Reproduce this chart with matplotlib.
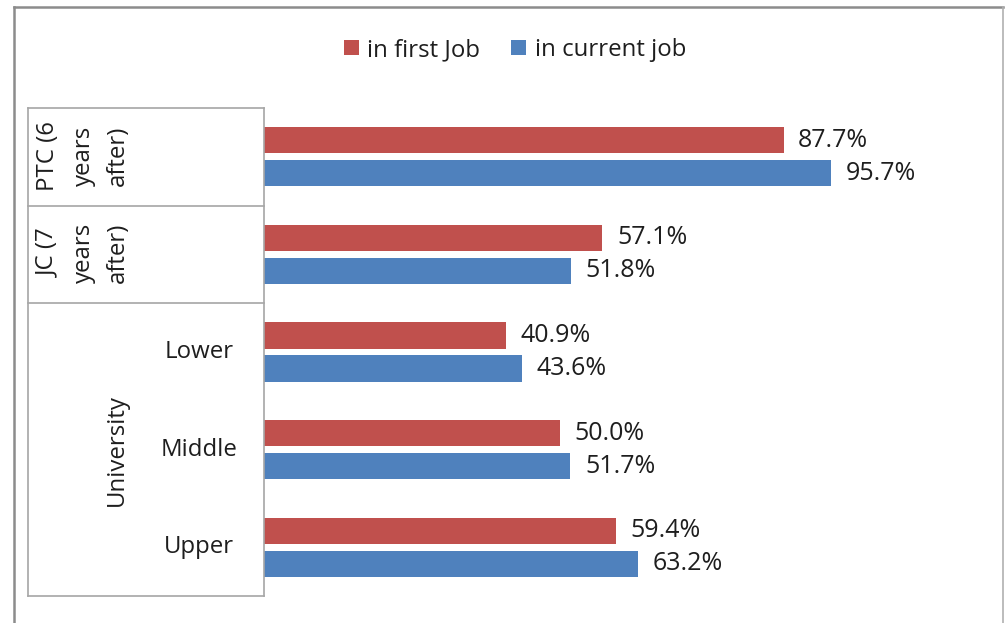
import matplotlib
matplotlib.use("Agg")
import matplotlib.pyplot as plt
from matplotlib.lines import Line2D
from matplotlib.patches import Patch
from matplotlib.transforms import blended_transform_factory

plt.rcParams['font.family'] = ['Open Sans', 'DejaVu Sans']

# Data
rows = ["PTC (6 years after)", "JC (7 years after)", "Lower", "Middle", "Upper"]
outer_labels = ["PTC (6\nyears\nafter)", "JC (7\nyears\nafter)", "University"]
inner_labels = ["Lower", "Middle", "Upper"]
series_names = ["in first Job", "in current job"]
first_job = [87.7, 57.1, 40.9, 50.0, 59.4]
current_job = [95.7, 51.8, 43.6, 51.7, 63.2]

RED = "#C0504D"
BLUE = "#4F81BD"
TXT = "#1E1E1E"
GRID = "#A6A6A6"
FS = 17.3
FSV = 18

W, H = 1005, 623
fig = plt.figure(figsize=(W / 100, H / 100), dpi=100)
fig.patch.set_facecolor("white")

ax_left, ax_right, ax_top, ax_bottom = 264, 1000, 108, 596
ax = fig.add_axes([ax_left / W, 1 - ax_bottom / H, (ax_right - ax_left) / W, (ax_bottom - ax_top) / H])

px_per_unit = (831 - 264) / 95.7
ax.set_xlim(0, (ax_right - ax_left) / px_per_unit)
ax.set_ylim(len(rows) - 0.5, -0.5)

ypos = list(range(len(rows)))
bh = 0.268
off = 0.169
ax.barh([y - off for y in ypos], first_job, height=bh, color=RED, label=series_names[0])
ax.barh([y + off for y in ypos], current_job, height=bh, color=BLUE, label=series_names[1])

for y, v in zip(ypos, first_job):
    ax.annotate(f"{v:.1f}%", (v, y - off), xytext=(10.5, 0), textcoords="offset points",
                va="center", ha="left", fontsize=FSV, color=TXT)
for y, v in zip(ypos, current_job):
    ax.annotate(f"{v:.1f}%", (v, y + off), xytext=(10.5, 0), textcoords="offset points",
                va="center", ha="left", fontsize=FSV, color=TXT)

for s in ["top", "right", "bottom"]:
    ax.spines[s].set_visible(False)
ax.spines["left"].set_color(GRID)
ax.spines["left"].set_linewidth(1.2)
ax.set_xticks([])
ax.set_yticks([])

# Category box
tr = blended_transform_factory(fig.transFigure, ax.transData)
x0 = 28 / W
x1 = 264 / W
for yb in [-0.5, 0.5, 1.5, 4.5]:
    fig.add_artist(Line2D([x0, x1], [yb, yb], transform=tr, color=GRID, lw=1.2))
fig.add_artist(Line2D([x0, x0], [-0.5, 4.5], transform=tr, color=GRID, lw=1.2))

# wrapped outer labels: each line centred on its row
line_x = [48, 84, 118]
for row, ycen in [(0, -0.005), (1, 0.98)]:
    for lx, line in zip(line_x, outer_labels[row].split("\n")):
        fig.text(lx / W, ycen, line, transform=tr, rotation=90, ha="center", va="center",
                 fontsize=FS, color=TXT)
fig.text(117 / W, 3, outer_labels[2], transform=tr, rotation=90, ha="center", va="center",
         fontsize=FS, color=TXT)
for i, lab in enumerate(inner_labels):
    fig.text(199 / W, 2 + i, lab, transform=tr, ha="center", va="center", fontsize=FS, color=TXT)

# Legend
handles = [Patch(facecolor=RED, edgecolor="none"), Patch(facecolor=BLUE, edgecolor="none")]
fig.legend(handles, series_names, loc="center", bbox_to_anchor=(515 / W, 1 - 50 / H), ncol=2,
           frameon=False, fontsize=FS, handlelength=0.62, handleheight=0.62,
           handletextpad=0.35, columnspacing=1.3, labelcolor=TXT)

# Outer frame
fig.add_artist(Line2D([14 / W, 1003 / W], [1 - 7 / H, 1 - 7 / H], transform=fig.transFigure, color="#8C8C8C", lw=1.8))
fig.add_artist(Line2D([14 / W, 14 / W], [1 - 7 / H, 0], transform=fig.transFigure, color="#8C8C8C", lw=1.8))
fig.add_artist(Line2D([1003 / W, 1003 / W], [1 - 7 / H, 0], transform=fig.transFigure, color="#B0B0B0", lw=1.2))

fig.savefig("out.png", dpi=100, facecolor="white")
